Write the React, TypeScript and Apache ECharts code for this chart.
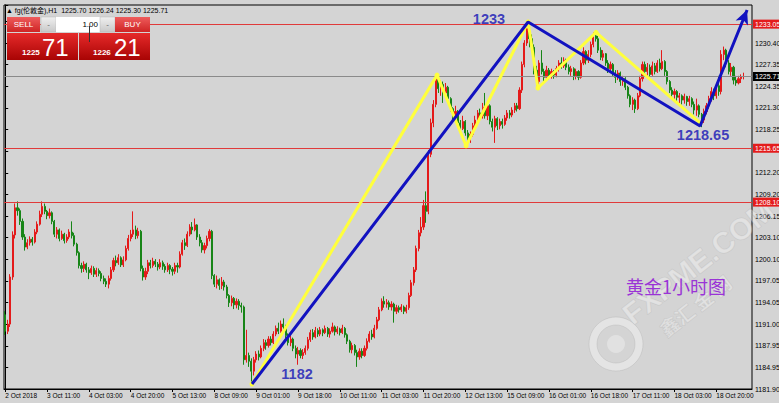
import React, { useEffect, useRef } from "react";
import * as echarts from "echarts";

// ---- data ----
const firstOpen = 1192.3;
const closes = [
  1190.0, 1191.0, 1197.6, 1203.5, 1207.3, 1206.9, 1205.4, 1203.2, 1201.8, 1202.4,
  1202.9, 1202.5, 1203.9, 1205.0, 1206.4, 1207.5, 1206.8, 1206.2, 1206.6, 1205.4,
  1203.6, 1204.2, 1203.0, 1203.6, 1202.7, 1203.2, 1203.9, 1203.4, 1202.2, 1201.0,
  1199.2, 1198.8, 1199.4, 1198.6, 1198.2, 1198.8, 1198.0, 1198.5, 1198.1, 1197.4,
  1197.0, 1196.6, 1197.4, 1198.6, 1199.9, 1199.6, 1200.3, 1199.3, 1200.0, 1201.6,
  1203.0, 1203.6, 1204.2, 1203.4, 1204.0, 1198.8, 1197.6, 1198.4, 1199.6, 1199.2,
  1199.8, 1199.4, 1199.0, 1199.6, 1199.1, 1198.6, 1199.2, 1198.7, 1198.4, 1199.2,
  1199.0, 1200.8, 1202.4, 1202.0, 1203.6, 1204.6, 1204.2, 1204.9, 1203.2, 1202.4,
  1201.4, 1202.0, 1203.0, 1204.0, 1197.8, 1196.6, 1197.2, 1196.4, 1196.9, 1196.2,
  1195.0, 1194.0, 1194.6, 1193.7, 1194.2, 1193.6, 1193.4, 1186.0, 1186.6, 1185.8,
  1184.4, 1186.0, 1186.8, 1186.4, 1187.6, 1188.4, 1188.0, 1188.9, 1188.4, 1189.6,
  1190.4, 1190.0, 1191.0, 1190.6, 1189.4, 1188.4, 1188.9, 1187.6, 1186.8, 1187.3,
  1186.6, 1187.0, 1187.6, 1188.8, 1189.8, 1189.2, 1190.1, 1189.6, 1190.2, 1189.8,
  1190.4, 1189.6, 1190.0, 1190.6, 1189.9, 1190.3, 1189.8, 1190.4, 1189.5, 1188.6,
  1187.4, 1188.0, 1187.0, 1186.4, 1187.2, 1186.6, 1187.6, 1188.6, 1189.6, 1189.2,
  1190.4, 1191.6, 1193.0, 1194.2, 1193.8, 1194.0, 1193.4, 1193.8, 1192.8, 1193.3,
  1193.0, 1193.4, 1192.8, 1193.3, 1195.0, 1196.8, 1198.6, 1201.6, 1203.8, 1204.6,
  1207.6, 1206.8, 1214.8, 1219.2, 1221.8, 1225.4, 1224.0, 1224.6, 1223.4, 1224.2,
  1222.6, 1221.2, 1220.0, 1220.8, 1219.2, 1218.4, 1219.4, 1217.8, 1217.0, 1217.6,
  1218.8, 1219.6, 1220.6, 1220.2, 1221.4, 1220.2, 1221.6, 1219.4, 1218.6, 1219.8,
  1218.8, 1219.4, 1219.0, 1219.9, 1220.6, 1220.3, 1221.0, 1221.6, 1221.2, 1223.8,
  1227.4, 1230.4, 1232.4, 1231.0, 1229.8, 1226.6, 1225.0, 1227.6, 1226.4, 1225.6,
  1226.6, 1225.8, 1226.4, 1225.9, 1226.8, 1227.6, 1227.2, 1228.0, 1227.0, 1226.4,
  1226.8, 1225.8, 1226.4, 1225.6, 1227.6, 1229.2, 1228.0, 1228.8, 1230.2, 1231.4,
  1231.0, 1229.4, 1228.4, 1228.9, 1227.6, 1226.8, 1227.4, 1226.2, 1225.6, 1226.2,
  1225.0, 1225.4, 1224.2, 1223.0, 1221.8, 1222.4, 1221.2, 1223.0, 1225.4, 1227.4,
  1226.4, 1227.0, 1226.0, 1227.2, 1226.4, 1227.6, 1226.8, 1227.8, 1226.4, 1225.0,
  1223.8, 1223.2, 1223.6, 1222.8, 1223.0, 1222.4, 1222.9, 1222.2, 1222.6, 1221.8,
  1221.0, 1221.6, 1220.4, 1219.6, 1220.8, 1221.6, 1222.6, 1223.6, 1223.0, 1224.4,
  1223.6, 1228.8, 1229.4, 1227.6, 1226.4, 1227.0, 1225.2, 1224.8, 1225.4, 1225.7,
  1225.71,
];
const highs = [
  1192.8, 1191.6, 1198.0, 1204.0, 1207.9, 1208.2, 1207.2, 1205.8, 1203.6, 1202.9,
  1203.3, 1203.2, 1204.3, 1205.4, 1206.9, 1208.2, 1207.9, 1207.0, 1207.2, 1206.8,
  1205.6, 1204.6, 1204.4, 1204.1, 1203.8, 1203.6, 1204.3, 1205.4, 1203.8, 1202.4,
  1201.2, 1199.6, 1199.8, 1199.6, 1199.0, 1199.2, 1199.1, 1198.9, 1198.8, 1198.4,
  1197.8, 1197.4, 1197.8, 1199.0, 1200.3, 1200.6, 1200.8, 1200.5, 1200.5, 1202.0,
  1203.5, 1204.2, 1206.8, 1204.8, 1204.5, 1204.2, 1199.2, 1198.9, 1200.0, 1200.0,
  1200.3, 1200.1, 1199.7, 1200.1, 1199.9, 1199.4, 1199.6, 1199.4, 1199.0, 1199.6,
  1199.6, 1201.2, 1202.8, 1203.0, 1204.0, 1205.0, 1205.3, 1205.8, 1205.0, 1203.6,
  1202.8, 1202.4, 1203.4, 1204.3, 1204.2, 1198.0, 1197.8, 1197.4, 1197.6, 1197.2,
  1196.5, 1195.2, 1195.0, 1194.8, 1194.6, 1194.5, 1194.0, 1193.6, 1190.2, 1187.0,
  1186.2, 1186.4, 1187.2, 1187.3, 1188.0, 1188.9, 1188.8, 1189.3, 1189.3, 1190.0,
  1190.8, 1191.2, 1191.5, 1191.8, 1190.9, 1189.7, 1189.4, 1189.1, 1188.0, 1187.8,
  1187.6, 1187.5, 1188.0, 1189.2, 1190.2, 1190.3, 1190.6, 1190.4, 1190.6, 1190.4,
  1190.8, 1190.6, 1190.4, 1191.2, 1190.8, 1190.7, 1190.5, 1190.9, 1190.6, 1189.7,
  1188.8, 1188.4, 1188.2, 1187.4, 1187.6, 1187.6, 1188.0, 1189.0, 1190.0, 1190.2,
  1190.9, 1192.0, 1193.4, 1194.6, 1194.9, 1194.5, 1194.3, 1194.2, 1194.0, 1193.7,
  1193.6, 1193.8, 1193.6, 1193.7, 1195.4, 1197.2, 1199.0, 1202.0, 1204.2, 1206.0,
  1208.4, 1209.6, 1215.4, 1219.8, 1222.4, 1225.9, 1225.6, 1225.2, 1225.0, 1224.8,
  1224.4, 1222.8, 1221.4, 1221.6, 1221.0, 1219.6, 1220.2, 1219.6, 1218.2, 1218.0,
  1219.2, 1220.2, 1221.0, 1221.2, 1222.0, 1223.4, 1222.2, 1221.8, 1219.8, 1220.2,
  1220.0, 1219.8, 1219.8, 1220.3, 1221.0, 1221.0, 1221.4, 1222.0, 1222.0, 1224.2,
  1227.8, 1230.8, 1233.2, 1232.8, 1231.6, 1230.2, 1227.2, 1228.0, 1229.4, 1226.8,
  1227.2, 1226.9, 1226.8, 1226.6, 1227.2, 1228.0, 1228.4, 1228.4, 1228.2, 1227.4,
  1227.2, 1227.0, 1226.8, 1226.6, 1228.0, 1229.8, 1229.4, 1229.4, 1230.6, 1231.9,
  1232.2, 1231.4, 1229.8, 1229.4, 1229.0, 1228.0, 1227.8, 1227.6, 1226.6, 1226.6,
  1226.4, 1225.8, 1225.6, 1224.4, 1223.2, 1222.8, 1222.6, 1223.4, 1225.8, 1227.8,
  1227.8, 1227.6, 1227.4, 1227.8, 1227.6, 1228.0, 1228.2, 1229.4, 1228.0, 1226.6,
  1225.2, 1224.2, 1224.0, 1223.8, 1223.4, 1223.2, 1223.3, 1223.0, 1223.0, 1222.8,
  1222.2, 1222.6, 1221.8, 1220.6, 1221.2, 1222.0, 1223.0, 1224.2, 1224.0, 1224.8,
  1225.8, 1229.4, 1229.9, 1229.6, 1228.0, 1227.6, 1227.2, 1225.8, 1225.8, 1226.0,
  1226.24,
];
const lows = [
  1189.5, 1189.6, 1190.6, 1197.2, 1203.0, 1206.2, 1204.9, 1202.8, 1201.3, 1201.5,
  1202.0, 1202.0, 1202.3, 1203.6, 1204.8, 1206.0, 1206.4, 1205.7, 1205.8, 1205.0,
  1203.2, 1203.0, 1202.6, 1202.8, 1202.3, 1202.4, 1202.9, 1203.0, 1201.9, 1200.6,
  1198.8, 1198.2, 1198.3, 1198.2, 1197.3, 1197.9, 1197.6, 1197.6, 1197.7, 1197.0,
  1196.6, 1196.2, 1196.0, 1197.1, 1198.3, 1199.1, 1199.3, 1199.0, 1199.0, 1199.8,
  1201.3, 1202.6, 1203.2, 1202.9, 1203.0, 1198.4, 1197.1, 1197.2, 1198.0, 1198.8,
  1198.9, 1199.0, 1198.5, 1198.7, 1198.6, 1198.2, 1198.3, 1198.0, 1197.8, 1198.0,
  1198.2, 1198.8, 1200.6, 1201.4, 1201.8, 1203.3, 1203.6, 1204.0, 1202.8, 1201.9,
  1201.0, 1200.9, 1201.6, 1202.6, 1197.3, 1196.2, 1196.0, 1195.8, 1195.9, 1195.7,
  1194.6, 1193.4, 1193.5, 1193.1, 1193.2, 1193.0, 1192.6, 1185.3, 1185.6, 1185.0,
  1182.7, 1183.8, 1185.6, 1185.9, 1186.2, 1187.2, 1187.4, 1187.7, 1188.0, 1188.2,
  1189.3, 1189.6, 1189.8, 1190.1, 1189.0, 1188.0, 1187.9, 1187.2, 1186.2, 1185.3,
  1186.2, 1186.1, 1186.7, 1187.3, 1188.5, 1188.8, 1189.0, 1189.2, 1189.3, 1189.3,
  1189.6, 1189.2, 1189.1, 1189.8, 1189.4, 1189.6, 1189.4, 1189.6, 1189.1, 1188.2,
  1187.0, 1186.9, 1186.6, 1185.0, 1186.0, 1186.2, 1186.4, 1187.3, 1188.4, 1188.8,
  1189.0, 1190.2, 1191.4, 1192.8, 1193.3, 1193.3, 1193.0, 1192.9, 1191.2, 1192.4,
  1192.6, 1192.7, 1192.4, 1192.5, 1193.0, 1194.8, 1196.4, 1198.3, 1201.2, 1203.3,
  1204.2, 1205.2, 1206.4, 1214.4, 1218.6, 1221.4, 1223.4, 1223.0, 1222.0, 1223.0,
  1222.2, 1220.8, 1219.6, 1219.6, 1218.6, 1218.0, 1218.2, 1217.4, 1216.6, 1216.4,
  1217.3, 1218.4, 1219.2, 1219.6, 1219.8, 1219.8, 1219.6, 1219.0, 1218.0, 1216.4,
  1218.2, 1218.3, 1218.4, 1218.8, 1219.5, 1219.8, 1220.0, 1220.6, 1220.8, 1221.0,
  1223.4, 1227.0, 1230.0, 1229.8, 1229.2, 1226.0, 1224.2, 1224.6, 1226.0, 1225.0,
  1225.2, 1225.3, 1225.4, 1225.4, 1225.6, 1226.4, 1226.8, 1226.9, 1226.6, 1226.0,
  1225.8, 1225.2, 1225.3, 1225.2, 1225.4, 1227.3, 1227.4, 1227.6, 1228.4, 1229.8,
  1230.6, 1229.0, 1228.0, 1227.9, 1227.2, 1226.2, 1226.4, 1225.8, 1224.8, 1225.2,
  1224.4, 1224.4, 1223.8, 1222.6, 1221.4, 1221.0, 1220.6, 1221.0, 1222.8, 1225.0,
  1226.0, 1225.8, 1225.6, 1225.8, 1226.0, 1226.2, 1226.4, 1226.6, 1225.8, 1224.6,
  1223.4, 1222.6, 1222.6, 1222.2, 1222.0, 1221.8, 1221.9, 1221.6, 1221.6, 1221.4,
  1220.4, 1220.2, 1220.0, 1218.6, 1219.2, 1220.4, 1221.2, 1222.2, 1222.4, 1222.6,
  1223.0, 1223.2, 1228.0, 1227.0, 1226.0, 1225.8, 1224.6, 1224.4, 1224.6, 1224.8,
  1225.3,
];
const slotCount = 304;
const xTickLabels = [
  "2 Oct 2018", "3 Oct 11:00", "4 Oct 03:00", "4 Oct 20:00", "5 Oct 13:00", "8 Oct 09:00",
  "9 Oct 01:00", "9 Oct 18:00", "10 Oct 11:00", "11 Oct 03:00", "11 Oct 20:00", "12 Oct 13:00",
  "15 Oct 09:00", "16 Oct 01:00", "16 Oct 18:00", "17 Oct 11:00", "18 Oct 03:00", "18 Oct 20:00",
];
const yMin = 1181.9;
const yMax = 1235.73;
const yStep = 3.03125;
const yTickLabels = [
  "1181.90", "1184.95", "1187.95", "1191.00", "1194.05", "1197.05", "1200.10", "1203.10", "1206.15",
  "1209.20", "1212.20", "", "1218.25", "1221.30", "1224.35", "1227.35", "1230.40",
];
const levelLines = [1233.05, 1215.65, 1208.1];
const bidPrice = 1225.71;
const headerText = "▲ fg(伦敦金),H1  1225.70 1226.24 1225.30 1225.71";
// trend line anchors: [bar index, price]
const blueTrend = [[100.3, 1182.6], [212.5, 1233.35], [282.4, 1218.76], [301.5, 1235.03]];
const yellowZigzag = [
  [100.3, 1182.6], [175.5, 1225.9], [187.3, 1216.0], [212.5, 1233.35],
  [216.5, 1224.1], [240.1, 1231.9], [282.4, 1219.2],
];
const annotations = [
  { text: "1233", bar: 196.6, price: 1233.76 },
  { text: "1182", bar: 118.6, price: 1184.0 },
  { text: "1218.65", bar: 283.6, price: 1217.5 },
];

const UP = "#e41a1a";
const DOWN = "#178517";
const FONT = "Liberation Sans, DejaVu Sans, sans-serif";

export default function App() {
  const ref = useRef<HTMLDivElement>(null);
  useEffect(() => {
    if (!ref.current) return;
    const chart = echarts.init(ref.current, undefined, { renderer: "svg" });
    const categories = Array.from({ length: slotCount }, (_, i) => String(i));
    const candles = closes.map((c, i) => {
      const o = i === 0 ? firstOpen : closes[i - 1];
      return [o, c, lows[i], highs[i]];
    });
    const redGrad = () =>
      new echarts.graphic.LinearGradient(0, 0, 0, 1, [
        { offset: 0, color: "#ee5c5c" },
        { offset: 1, color: "#cf2424" },
      ]);
    const bigGrad = () =>
      new echarts.graphic.LinearGradient(0, 0, 0, 1, [
        { offset: 0, color: "#e62a2a" },
        { offset: 1, color: "#a80404" },
      ]);
    const grayGrad = () =>
      new echarts.graphic.LinearGradient(0, 0, 0, 1, [
        { offset: 0, color: "#f0f0f0" },
        { offset: 1, color: "#c8c8c8" },
      ]);
    const Z = 60;
    const graphic: any[] = [
      // watermark
      {
        type: "text", z: 1, silent: true, x: 698, y: 262, rotation: 0.66,
        style: { text: "FXPME.COM", fontSize: 30, fontWeight: "bold", fontFamily: FONT, fill: "rgba(255,255,255,0.35)", stroke: "rgba(175,175,175,0.35)", lineWidth: 1, align: "center", verticalAlign: "middle" },
      },
      {
        type: "text", z: 1, silent: true, x: 695, y: 305, rotation: 0.66,
        style: { text: "鑫汇 金 网", fontSize: 19, fontWeight: "bold", fontFamily: "Noto Sans CJK SC", fill: "rgba(255,255,255,0.35)", stroke: "rgba(175,175,175,0.35)", lineWidth: 1, align: "center", verticalAlign: "middle" },
      },
      { type: "ring", z: 1, silent: true, shape: { cx: 616, cy: 344, r: 27, r0: 19 }, style: { fill: "rgba(255,255,255,0.38)", stroke: "rgba(175,175,175,0.35)" } },
      { type: "circle", z: 1, silent: true, shape: { cx: 616, cy: 344, r: 9 }, style: { fill: "rgba(255,255,255,0.3)" } },
      // purple caption
      {
        type: "text", z: 20, silent: true, x: 626, y: 286,
        style: { text: "黄金1小时图", fontSize: 18, fontFamily: "Noto Sans CJK SC", fill: "#9a34d6", align: "left", verticalAlign: "middle" },
      },
      // header
      {
        type: "text", z: Z, silent: true, x: 6, y: 10,
        style: { text: headerText, fontSize: 7, fontFamily: "Liberation Sans, Noto Sans CJK SC", fill: "#000", align: "left", verticalAlign: "middle" },
      },
      // trade panel
      { type: "rect", z: Z, shape: { x: 7, y: 17, width: 33, height: 15 }, style: { fill: redGrad() } },
      { type: "text", z: Z + 1, x: 23.5, y: 24.5, style: { text: "SELL", fontSize: 8, fontFamily: FONT, fill: "#fff", align: "center", verticalAlign: "middle" } },
      { type: "rect", z: Z, shape: { x: 41, y: 17, width: 15, height: 15 }, style: { fill: grayGrad(), stroke: "#b4b4b4", lineWidth: 0.5 } },
      { type: "text", z: Z + 1, x: 48.5, y: 24.5, style: { text: "-", fontSize: 8, fontFamily: FONT, fill: "#666", align: "center", verticalAlign: "middle" } },
      { type: "rect", z: Z, shape: { x: 56, y: 17, width: 44, height: 15 }, style: { fill: "#fff" } },
      { type: "text", z: Z + 1, x: 98, y: 24.5, style: { text: "1.00", fontSize: 8, fontFamily: FONT, fill: "#000", align: "right", verticalAlign: "middle" } },
      { type: "line", z: Z + 2, shape: { x1: 89.5, y1: 26, x2: 89.5, y2: 42 }, style: { stroke: "#333", lineWidth: 1 } },
      { type: "rect", z: Z, shape: { x: 100, y: 17, width: 15, height: 15 }, style: { fill: grayGrad(), stroke: "#b4b4b4", lineWidth: 0.5 } },
      { type: "text", z: Z + 1, x: 107.5, y: 24.5, style: { text: "-", fontSize: 8, fontFamily: FONT, fill: "#666", align: "center", verticalAlign: "middle" } },
      { type: "rect", z: Z, shape: { x: 115, y: 17, width: 35, height: 15 }, style: { fill: redGrad() } },
      { type: "text", z: Z + 1, x: 132.5, y: 24.5, style: { text: "BUY", fontSize: 8, fontFamily: FONT, fill: "#fff", align: "center", verticalAlign: "middle" } },
      { type: "rect", z: Z, shape: { x: 7, y: 33, width: 71, height: 27 }, style: { fill: bigGrad() } },
      { type: "rect", z: Z, shape: { x: 79, y: 33, width: 71, height: 27 }, style: { fill: bigGrad() } },
      { type: "text", z: Z + 1, x: 22, y: 52, style: { text: "1225", fontSize: 8, fontWeight: "bold", fontFamily: FONT, fill: "#fff", align: "left", verticalAlign: "middle" } },
      { type: "text", z: Z + 1, x: 42, y: 47, style: { text: "71", fontSize: 24, fontFamily: FONT, fill: "#fff", align: "left", verticalAlign: "middle" } },
      { type: "text", z: Z + 1, x: 93, y: 52, style: { text: "1226", fontSize: 8, fontWeight: "bold", fontFamily: FONT, fill: "#fff", align: "left", verticalAlign: "middle" } },
      { type: "text", z: Z + 1, x: 114, y: 47, style: { text: "21", fontSize: 24, fontFamily: FONT, fill: "#fff", align: "left", verticalAlign: "middle" } },
    ];

    const tag = (bg: string) => ({
      show: true,
      position: "end",
      distance: 1,
      formatter: (p: any) => Number(p.value).toFixed(2),
      backgroundColor: bg,
      color: "#fff",
      fontSize: 7,
      fontFamily: FONT,
      padding: [1, 2, 1, 2],
    });

    const option: any = {
      animation: false,
      backgroundColor: "#d4d4d4",
      grid: { left: 4, right: 27, top: 5, bottom: 14, show: true, borderColor: "#000", borderWidth: 1, backgroundColor: "transparent", outerBoundsMode: "none" },
      xAxis: [
        {
          type: "category",
          data: categories,
          boundaryGap: true,
          axisLine: { lineStyle: { color: "#000", width: 1 } },
          axisTick: { show: true, interval: 16, alignWithLabel: true, length: 3, lineStyle: { color: "#000" } },
          axisLabel: {
            interval: 16,
            align: "left",
            margin: 3,
            fontSize: 6.5,
            fontFamily: FONT,
            color: "#000",
            formatter: (_v: any, i: number) => (i % 17 === 0 ? xTickLabels[i / 17] ?? "" : ""),
          },
          splitLine: { show: false },
        },
        { type: "value", show: false, min: -0.5, max: slotCount - 0.5 },
      ],
      yAxis: {
        type: "value",
        position: "right",
        min: yMin,
        max: yMax,
        interval: yStep,
        axisLine: { show: true, lineStyle: { color: "#000", width: 1 } },
        axisTick: { show: true, length: 3, lineStyle: { color: "#000" } },
        axisLabel: {
          margin: 3,
          fontSize: 7,
          fontFamily: FONT,
          color: "#000",
          formatter: (v: number) => {
            const k = Math.round((v - yMin) / yStep);
            if (Math.abs(v - (yMin + k * yStep)) > 0.01) return "";
            return yTickLabels[k] ?? "";
          },
        },
        splitLine: { show: false },
      },
      graphic,
      series: [
        {
          type: "candlestick",
          data: candles,
          barWidth: 1.6,
          itemStyle: { color: UP, color0: DOWN, borderColor: UP, borderColor0: DOWN, borderWidth: 1 },
          markLine: {
            silent: true,
            symbol: ["none", "none"],
            animation: false,
            data: [
              ...levelLines.map((v) => ({ yAxis: v, lineStyle: { color: "#e03a3a", width: 1, type: "solid" }, label: tag("#e41c1c") })),
              { yAxis: bidPrice, lineStyle: { color: "#8a8a8a", width: 1, type: "solid" }, label: tag("#000") },
            ],
          },
          z: 3,
        },
        {
          type: "line",
          xAxisIndex: 1,
          data: yellowZigzag,
          clip: false,
          showSymbol: true,
          symbol: "circle",
          symbolSize: 5,
          itemStyle: { color: "#ffff3c" },
          lineStyle: { color: "#ffff3c", width: 3 },
          silent: true,
          z: 5,
        },
        {
          type: "line",
          xAxisIndex: 1,
          data: blueTrend.map((p, i) =>
            i === blueTrend.length - 1
              ? { value: p, symbol: "arrow", symbolSize: [10, 14], symbolRotate: -22 }
              : { value: p, symbol: "none" }
          ),
          clip: false,
          showSymbol: true,
          symbol: "none",
          itemStyle: { color: "#1212c0" },
          lineStyle: { color: "#1212c0", width: 3 },
          silent: true,
          z: 6,
        },
        {
          type: "scatter",
          xAxisIndex: 1,
          data: annotations.map((a) => ({ value: [a.bar, a.price], name: a.text })),
          symbolSize: 0,
          silent: true,
          label: {
            show: true,
            position: "inside",
            formatter: (p: any) => p.name,
            color: "#1414b4",
            fontSize: 14.5,
            fontWeight: "bold",
            fontFamily: FONT,
          },
          z: 7,
        },
      ],
    };
    chart.setOption(option);
    return () => chart.dispose();
  }, []);
  return (
    <div
      ref={ref}
      style={{ position: "fixed", left: 0, top: 0, width: 779, height: 403, background: "#d4d4d4" }}
    />
  );
}
